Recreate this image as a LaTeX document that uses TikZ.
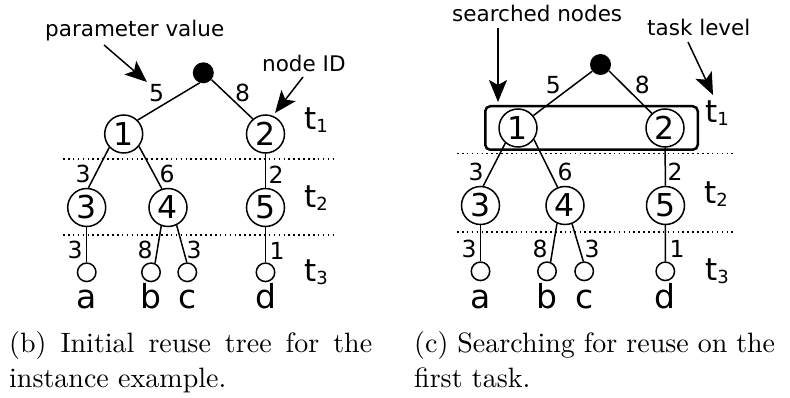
\documentclass[tikz,border=0pt]{standalone}
\usepackage{fontspec}
\newfontfamily\dv{DejaVu Sans}
\newfontfamily\capfont[Ligatures=TeX]{lmroman10-regular.otf}
\usetikzlibrary{arrows.meta,fit}

% level name: "t" with a small index
\newcommand\lvlname[1]{t\raisebox{-3pt}{\fontsize{18}{18}\selectfont #1}}

\begin{document}
\begin{tikzpicture}[x=1pt,y=-1pt,
  treenode/.style={circle,draw,line width=1.5pt,minimum size=38pt,inner sep=0pt,
                   font=\dv\fontsize{31.5}{31.5}\selectfont},
  leafnode/.style={circle,draw,line width=1.5pt,minimum size=18.5pt,inner sep=0pt},
  rootnode/.style={circle,fill,minimum size=21pt,inner sep=0pt},
  weight/.style={font=\dv\fontsize{23.5}{23.5}\selectfont,inner sep=0pt},
  leafname/.style={font=\dv\fontsize{33}{33}\selectfont,inner sep=0pt,anchor=base},
  levelname/.style={font=\dv\fontsize{31}{31}\selectfont,inner sep=0pt,anchor=base west},
  note/.style={font=\dv\fontsize{21.5}{21.5}\selectfont,inner sep=0pt,anchor=base west},
  edge/.style={line width=1.5pt},
  levelsep/.style={line width=1.6pt,dash pattern=on 1.6pt off 3.3pt},
  pointer/.style={line width=1.5pt,-{Stealth[length=22pt,width=18pt,inset=5pt]}},
  caption/.style={font=\capfont\fontsize{28}{34}\selectfont,inner sep=0pt,anchor=base west}
]
\useasboundingbox (0,0) rectangle (790,398);

% ---------------- (b) initial reuse tree ----------------
\node[rootnode] (bR) at (203.3,72.8) {};
\node[treenode] (b1) at (123.7,134) {1};
\node[treenode] (b2) at (265.5,134) {2};
\node[treenode] (b3) at (86.7,207.5) {3};
\node[treenode] (b4) at (168,207.5) {4};
\node[treenode] (b5) at (265.5,207.5) {5};
\node[leafnode] (ba) at (86.7,272.3) {};
\node[leafnode] (bb) at (151,272.3) {};
\node[leafnode] (bc) at (187.3,272.3) {};
\node[leafnode] (bd) at (265.5,272.3) {};

\draw[edge] (bR.250) -- (b1.45);
\draw[edge] (bR.320) -- (b2.130);
\draw[edge] (b1.223) -- (b3.85);
\draw[edge] (b1.321) -- (b4.108);
\draw[edge] (b2) -- (b5);
\draw[edge] (b3) -- (ba);
\draw[edge] (b4.250) -- (bb.66);
\draw[edge] (b4.296) -- (bc.93);
\draw[edge] (b5) -- (bd);

\node[weight] (bw1) at (156.7,93.3) {5};
\node[weight] (bw2) at (242.7,93.3) {8};
\node[weight] (bw3) at (83,174) {3};
\node[weight] (bw4) at (167,174) {6};
\node[weight] (bw5) at (276,175) {2};
\node[weight] (bw6) at (75,250) {3};
\node[weight] (bw7) at (145,250) {8};
\node[weight] (bw8) at (194,250) {3};
\node[weight] (bw9) at (277,251) {1};

\draw[levelsep] (63,159) -- (333,159);
\draw[levelsep] (63,235) -- (333,235);

\node[levelname] (bt1) at (304,129.5) {\lvlname{1}};
\node[levelname] (bt2) at (304,208) {\lvlname{2}};
\node[levelname] (bt3) at (304,281) {\lvlname{3}};

\node[leafname] (bla) at (86.7,308) {a};
\node[leafname] (blb) at (151,308) {b};
\node[leafname] (blc) at (187.3,308) {c};
\node[leafname] (bld) at (265.5,308) {d};

\node[note] (pv) at (45,37) {parameter value};
\coordinate (pvtail) at (104,45);
\coordinate (pvtip) at (147,82);
\draw[pointer] (pvtail) -- (pvtip);

\node[note] (nid) at (262,71.7) {node ID};
\coordinate (nidtail) at (303,77);
\coordinate (nidtip) at (275,113);
\draw[pointer] (nidtail) -- (nidtip);

\node[caption] (capb1) at (9,352) {\makebox[363pt][s]{(b) Initial reuse tree for the}};
\node[caption] (capb2) at (9,387) {instance example.};

% ---------------- (c) searching the first task ----------------
\node[rootnode] (cR) at (600.5,64.5) {};
\node[treenode] (c1) at (518,128) {1};
\node[treenode] (c2) at (665,128) {2};
\node[treenode] (c3) at (480.5,205.5) {3};
\node[treenode] (c4) at (565,205.5) {4};
\node[treenode] (c5) at (665.5,205.5) {5};
\node[leafnode] (ca) at (480.5,271.3) {};
\node[leafnode] (cb) at (547,271.3) {};
\node[leafnode] (cc) at (584.2,271.3) {};
\node[leafnode] (cd) at (665.3,271.3) {};

\draw[edge] (cR.219) -- (c1.39);
\draw[edge] (cR.323) -- (c2.132);
\draw[edge] (c1.230) -- (c3.82);
\draw[edge] (c1.324) -- (c4.112);
\draw[edge] (c2) -- (c5);
\draw[edge] (c3) -- (ca);
\draw[edge] (c4.246) -- (cb.69);
\draw[edge] (c4.291) -- (cc.95);
\draw[edge] (c5) -- (cd);

\node[fit=(c1)(c2),draw,line width=2.5pt,rounded corners=5pt,
      inner xsep=13pt,inner ysep=2pt] (searchbox) {};

\node[weight] (cw1) at (553.3,85) {5};
\node[weight] (cw2) at (642.3,85) {8};
\node[weight] (cw3) at (476,172) {3};
\node[weight] (cw4) at (565,172) {6};
\node[weight] (cw5) at (675,172) {2};
\node[weight] (cw6) at (469,249) {3};
\node[weight] (cw7) at (540,249) {8};
\node[weight] (cw8) at (592,249) {3};
\node[weight] (cw9) at (677,249) {1};

\draw[levelsep] (457,153.5) -- (733,153.5);
\draw[levelsep] (457,232.3) -- (733,232.3);

\node[levelname] (ct1) at (705,123) {\lvlname{1}};
\node[levelname] (ct2) at (704,204) {\lvlname{2}};
\node[levelname] (ct3) at (705,280) {\lvlname{3}};

\node[leafname] (cla) at (480.5,308) {a};
\node[leafname] (clb) at (547,308) {b};
\node[leafname] (clc) at (584.2,308) {c};
\node[leafname] (cld) at (665.3,308) {d};

\node[note] (sn) at (452,21.7) {searched nodes};
\coordinate (sntail) at (498,28);
\coordinate (sntip) at (498,102);
\draw[pointer] (sntail) -- (sntip);

\node[note] (tl) at (647,36) {task level};
\coordinate (tltail) at (688,42);
\coordinate (tltip) at (713,95);
\draw[pointer] (tltail) -- (tltip);

\node[caption] (capc1) at (414,352) {\makebox[361pt][s]{(c) Searching for reuse on the}};
\node[caption] (capc2) at (414,387) {first task.};
\end{tikzpicture}
\end{document}
